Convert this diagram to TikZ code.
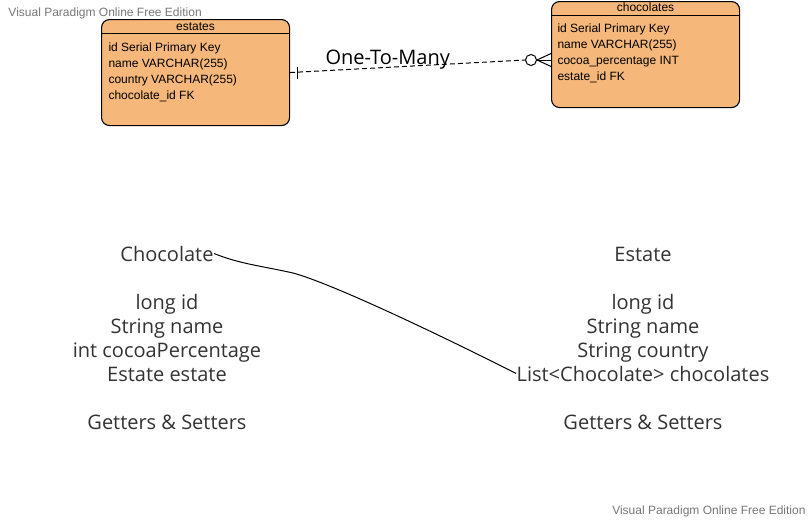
\documentclass[tikz,border=0pt]{standalone}
\usepackage{fontspec}
\setmainfont{Liberation Sans}
\newfontfamily\javafont{Open Sans}
\usetikzlibrary{calc}
\definecolor{erorange}{HTML}{F5B87A}
\definecolor{javagray}{HTML}{333333}
\definecolor{markgray}{HTML}{777777}

\begin{document}
\begin{tikzpicture}[
        x=1pt, y=-1pt,
        line width=1pt,
        erbox/.style={
            draw,
            rectangle,
            rounded corners=8pt,
            fill=erorange,
            line width=1.1pt,
            anchor=north west,
            minimum width=188pt,
            minimum height=106pt,
        },
        errow/.style={
            inner sep=0pt,
            anchor=base west,
            font=\fontsize{12}{14}\selectfont,
        },
        erhead/.style={
            errow,
            anchor=base,
        },
        javatext/.style={
            inner sep=0pt,
            anchor=base,
            text=javagray,
            font=\javafont\fontsize{20}{24}\selectfont,
        },
        watermark/.style={
            inner sep=0pt,
            text=markgray,
            font=\fontsize{12}{14}\selectfont,
        },
    ]

    \fill[white] (0,0) rectangle (812,520);
    \useasboundingbox (0,0) rectangle (812,520);

    \node[watermark, anchor=base west] (marktop) at (8,16) {Visual Paradigm Online Free Edition};
    \node[watermark, anchor=base east] (markbottom) at (806,514) {Visual Paradigm Online Free Edition};

    % ER tables
    \node[erbox] (estates) at (101,19) {};
    \draw ([yshift=-14pt]estates.north west) -- ([yshift=-14pt]estates.north east);
    \node[erhead] (estateshead) at ([yshift=-11pt]estates.north) {estates};
    \node[errow] (es1) at (108,51.5) {id Serial Primary Key};
    \node[errow] (es2) at (108,67.5) {name VARCHAR(255)};
    \node[errow] (es3) at (108,83.5) {country VARCHAR(255)};
    \node[errow] (es4) at (108,99.5) {chocolate\_id FK};

    \node[erbox] (chocolates) at (551,1) {};
    \draw ([yshift=-14pt]chocolates.north west) -- ([yshift=-14pt]chocolates.north east);
    \node[erhead] (chocolateshead) at ([yshift=-10.5pt]chocolates.north) {chocolates};
    \node[errow] (ch1) at (557,32) {id Serial Primary Key};
    \node[errow] (ch2) at (557,48) {name VARCHAR(255)};
    \node[errow] (ch3) at (557,64) {cocoa\_percentage INT};
    \node[errow] (ch4) at (557,80) {estate\_id FK};

    % relation
    \coordinate (relone) at (estates.east);
    \coordinate (relmany) at (chocolates.west |- 0,60);
    \node[draw, circle, fill=white, minimum size=11pt, inner sep=0pt] (relcircle) at (531,60) {};
    \draw[dash pattern=on 5pt off 3pt] (relone) -- (relcircle.west);
    \draw (relcircle.east) -- (relmany);
    \draw (relcircle.east) -- ([yshift=6.5pt]relmany);
    \draw (relcircle.east) -- ([yshift=-6.5pt]relmany);
    \draw ([xshift=7pt,yshift=6pt]relone) -- ([xshift=7pt,yshift=-6pt]relone);
    \node[inner sep=0pt, anchor=base west, text=black, font=\javafont\fontsize{20}{24}\selectfont] (rellabel) at (325,64) {One-To-Many};

    % classes
    \node[javatext] (c0) at (167,261) {Chocolate};
    \node[javatext] (c1) at (167,309) {long id};
    \node[javatext] (c2) at (167,333) {String name};
    \node[javatext] (c3) at (167,357) {int cocoaPercentage};
    \node[javatext] (c4) at (167,381) {Estate estate};
    \node[javatext] (c5) at (167,429) {Getters \& Setters};

    \node[javatext] (e0) at (643,261) {Estate};
    \node[javatext] (e1) at (643,309) {long id};
    \node[javatext] (e2) at (643,333) {String name};
    \node[javatext] (e3) at (643,357) {String country};
    \node[javatext] (e4) at (643,381) {List<Chocolate> chocolates};
    \node[javatext] (e5) at (643,429) {Getters \& Setters};

    \draw (c0.east) .. controls (240,264) and (262,266) .. (293,273)
        .. controls (330,283) and (430,330) .. (e4.west);
\end{tikzpicture}
\end{document}
